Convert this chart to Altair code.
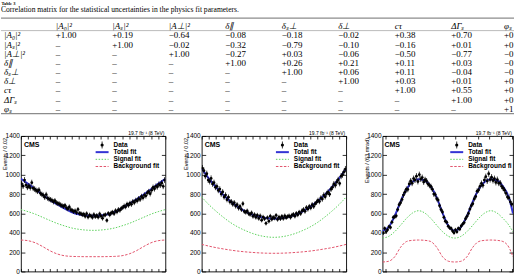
import altair as alt
import numpy as np
import pandas as pd

# ---------------- table content ----------------
TABLE_TITLE = "Table 3"
TABLE_CAPTION = "Correlation matrix for the statistical uncertainties in the physics fit parameters."
PARAMS = ["|A₀|²", "|Aₛ|²", "|A⊥|²", "δ∥", "δₛ⊥", "δ⊥", "cτ", "ΔΓₛ", "φₛ"]
ROW_A0 = ["+1.00", "+0.19", "−0.64", "−0.08", "−0.18", "−0.02", "+0.38", "+0.70", "+0.08"]
ROW_AS = ["–", "+1.00", "−0.02", "−0.32", "−0.79", "−0.10", "−0.16", "+0.01", "+0.03"]
ROW_APERP = ["–", "–", "+1.00", "−0.27", "+0.03", "−0.06", "−0.50", "−0.77", "−0.05"]
ROW_DPAR = ["–", "–", "–", "+1.00", "+0.26", "+0.21", "+0.11", "+0.03", "−0.02"]
ROW_DSPERP = ["–", "–", "–", "–", "+1.00", "+0.06", "+0.11", "−0.04", "−0.01"]
ROW_DPERP = ["–", "–", "–", "–", "–", "+1.00", "+0.03", "+0.01", "+0.04"]
ROW_CTAU = ["–", "–", "–", "–", "–", "–", "+1.00", "+0.55", "+0.02"]
ROW_DGAMMA = ["–", "–", "–", "–", "–", "–", "–", "+1.00", "+0.06"]
ROW_PHIS = ["–", "–", "–", "–", "–", "–", "–", "–", "+1.00"]
CORR = [ROW_A0, ROW_AS, ROW_APERP, ROW_DPAR, ROW_DSPERP, ROW_DPERP, ROW_CTAU, ROW_DGAMMA, ROW_PHIS]

# ---------------- plot content ----------------
LUMI = "19.7 fb⁻¹ (8 TeV)"
LEGEND_LABELS = ["Data", "Total fit", "Signal fit", "Background fit"]
YTICKS = [0, 200, 400, 600, 800, 1000, 1200, 1400]
YTITLE_COS = "Events / 0.02"
YTITLE_PHI = "Events / (63 mrad)"

P1_COUNTS = [905, 882, 945, 893, 870, 884, 866, 918, 860, 852,
             838, 829, 842, 808, 797, 788, 766, 795, 758, 748,
             742, 735, 720, 731, 710, 703, 698, 688, 680, 672,
             682, 658, 648, 667, 638, 630, 619, 626, 608, 641,
             600, 598, 586, 592, 571, 597, 562, 583, 574, 559,
             588, 566, 579, 561, 594, 572, 549, 581, 586, 528,
             600, 585, 605, 612, 598, 628, 616, 640, 632, 652,
             660, 676, 668, 695, 684, 705, 694, 722, 712, 735,
             730, 752, 745, 775, 762, 790, 782, 812, 825, 804,
             840, 868, 855, 880, 876, 900, 892, 915, 880, 945]
P1_TOT = [958, 905, 850, 793, 740, 695, 652, 615, 590, 579, 576, 579, 590, 615, 655, 700, 745, 795, 850, 905, 958]
P1_SIG = [640, 618, 592, 560, 528, 497, 472, 450, 436, 428, 425, 428, 436, 450, 472, 497, 528, 560, 592, 618, 640]
P1_BKG = [325, 318, 296, 258, 215, 182, 163, 156, 154, 153, 153, 153, 154, 156, 163, 182, 215, 258, 296, 318, 325]

P2_COUNTS = [1068, 1042, 985, 1010, 945, 930, 962, 905, 918, 870,
             880, 838, 852, 800, 822, 770, 790, 742, 768, 720,
             722, 695, 712, 676, 690, 655, 672, 640, 700, 620,
             612, 625, 598, 590, 605, 570, 588, 560, 582, 548,
             575, 530, 562, 545, 498, 556, 520, 572, 540, 560,
             552, 580, 538, 562, 545, 570, 548, 575, 556, 568,
             575, 560, 582, 590, 572, 600, 585, 612, 598, 628,
             640, 622, 660, 645, 672, 658, 690, 672, 700, 715,
             735, 722, 760, 748, 790, 772, 805, 820, 798, 850,
             870, 905, 890, 925, 948, 910, 985, 1000, 1030, 1058]
P2_TOT = [1065, 960, 870, 790, 722, 668, 622, 588, 564, 550, 546, 550, 564, 588, 622, 668, 722, 790, 870, 960, 1065]
P2_SIG = [770, 690, 622, 560, 505, 460, 424, 394, 372, 358, 353, 358, 372, 394, 424, 460, 505, 560, 622, 690, 770]
P2_BKG = [280, 262, 246, 233, 221, 211, 203, 197, 192, 189, 188, 189, 192, 197, 203, 211, 221, 233, 246, 262, 280]

P3_COUNTS = [398, 445, 412, 430, 462, 455, 510, 560, 565, 575,
             640, 690, 710, 745, 790, 820, 850, 848, 905, 935,
             912, 960, 945, 985, 930,
             1000, 955, 970, 925, 948, 935, 905, 890, 878, 850,
             800, 795, 752, 738, 680, 640, 615, 560, 520, 508,
             468, 450, 445, 418, 400,
             430, 410, 445, 438, 470, 490, 505, 545, 570, 600,
             645, 680, 700, 750, 775, 830, 842, 880, 910, 890,
             945, 980, 935, 1010, 950,
             975, 940, 960, 920, 950, 912, 915, 880, 860, 840,
             808, 770, 760, 720, 695, 645, 600, 575, 525, 495,
             480, 450, 432, 435, 410]
P3_TOT = [420, 458, 570, 722, 852, 928, 952, 940, 880, 765, 600, 465, 422,
          458, 570, 722, 852, 928, 952, 940, 880, 765, 600, 465, 422]
P3_SIG = [345, 362, 410, 478, 550, 605, 628, 605, 550, 478, 410, 362, 345,
          362, 410, 478, 550, 605, 628, 605, 550, 478, 410, 362, 345]
P3_BKG = [98, 105, 150, 250, 310, 322, 325, 322, 310, 250, 150, 105, 98,
          105, 150, 250, 310, 322, 325, 322, 310, 250, 150, 105, 98]

BIN_COS = np.linspace(-0.99, 0.99, 100)
FIT_COS = np.linspace(-1.0, 1.0, 21)
BIN_PHI = np.linspace(-np.pi + np.pi / 100, np.pi - np.pi / 100, 100)
FIT_PHI = np.linspace(-np.pi, np.pi, 25)
XTICK_COS = [round(v, 2) for v in np.arange(-1.0, 1.001, 0.1)]
XTICK_PHI = [-3, -2.5, -2, -1.5, -1, -0.5, 0, 0.5, 1, 1.5, 2, 2.5]

C_TOT = "#3434d4"
C_SIG = "#5ed25e"
C_BKG = "#e2546c"
SANS = "Liberation Sans"
SERIF = "Liberation Serif"
NO_ELLIPSIS = "\u200b"

PANEL_W = 145
PANEL_H = 136
P3_W = 131  # third panel runs off the page edge in the reference
P3_XMAX = -np.pi + 2 * np.pi * P3_W / PANEL_W

dummy = alt.Chart(pd.DataFrame({"a": [0]}))

# ---------------- table chart ----------------
cell_df = pd.DataFrame([{"row": r + 1, "col": c + 1, "txt": v}
                        for r, row in enumerate(CORR) for c, v in enumerate(row)])
head_df = pd.DataFrame({"row": [0] * 9, "col": list(range(1, 10)), "txt": PARAMS})
lab_df = pd.DataFrame({"row": list(range(1, 10)), "col": [0] * 9, "txt": PARAMS})

tx = alt.Scale(domain=[0.03, 9.113], nice=False, zero=False)
ty = alt.Scale(domain=[-2.696, 10.13], nice=False, zero=False, reverse=True)


def tcol(df, style, dx=0, limit=None):
    kw = dict(align="left", baseline="middle", font=SERIF, fontSize=9, fontStyle=style,
              dx=dx, clip=True, color="black")
    if limit:
        kw["limit"] = limit
        kw["ellipsis"] = NO_ELLIPSIS
    return alt.Chart(df).mark_text(**kw).encode(
        x=alt.X("col:Q", scale=tx, axis=None),
        y=alt.Y("row:Q", scale=ty, axis=None),
        text="txt:N",
    )


last_cells = cell_df[cell_df["col"] == 9]
inner_cells = cell_df[cell_df["col"] < 9]
table_layers = [
    tcol(inner_cells, "normal"),
    tcol(last_cells, "normal", dx=-3.6, limit=10),
    tcol(head_df[head_df["col"] < 9], "italic"),
    tcol(head_df[head_df["col"] == 9], "italic", dx=-3.6, limit=10),
    tcol(lab_df, "italic", dx=4.7),
    dummy.mark_text(text=TABLE_TITLE, align="left", baseline="alphabetic", font=SERIF,
                    fontSize=4.5, fontWeight="bold", color="black")
    .encode(x=alt.value(0.5), y=alt.value(3.6)),
    dummy.mark_text(text=TABLE_CAPTION, align="left", baseline="middle", font=SERIF,
                    fontSize=7.6, clip=True, color="black")
    .encode(x=alt.value(0), y=alt.value(8.6)),
]
for yy, w, col in [(16.7, 1.3, "#8c8c8c"), (29.2, 0.8, "#a8a8a8"), (112.6, 1.3, "#8c8c8c")]:
    table_layers.append(
        dummy.mark_rule(color=col, strokeWidth=w)
        .encode(x=alt.value(0), x2=alt.value(515), y=alt.value(yy))
    )
table = alt.layer(*table_layers).properties(
    width=515, height=118, view=alt.ViewBackground(strokeOpacity=0))


# ---------------- panels ----------------
def legend_layers(leg_x, width):
    lx0, lx1 = leg_x - 18, leg_x - 5
    mid = (lx0 + lx1) / 2
    ys_ = [9, 16.2, 23.4, 30.6]
    L = [
        dummy.mark_rule(color="black", strokeWidth=0.8)
        .encode(x=alt.value(mid), y=alt.value(ys_[0] - 3.5), y2=alt.value(ys_[0] + 3.5)),
        dummy.mark_circle(size=10, color="black", opacity=1)
        .encode(x=alt.value(mid), y=alt.value(ys_[0])),
        dummy.mark_rule(color=C_TOT, strokeWidth=2)
        .encode(x=alt.value(lx0), x2=alt.value(lx1), y=alt.value(ys_[1])),
        dummy.mark_rule(color=C_SIG, strokeWidth=1, strokeDash=[1.5, 1.5])
        .encode(x=alt.value(lx0), x2=alt.value(lx1), y=alt.value(ys_[2])),
        dummy.mark_rule(color=C_BKG, strokeWidth=1, strokeDash=[2.5, 1.5])
        .encode(x=alt.value(lx0), x2=alt.value(lx1), y=alt.value(ys_[3])),
    ]
    for lab, yy in zip(LEGEND_LABELS, ys_):
        L.append(dummy.mark_text(text=lab, align="left", baseline="middle", font=SANS,
                                 fontSize=6.5, fontWeight="bold", color="black", clip=True,
                                 limit=width - leg_x, ellipsis=NO_ELLIPSIS)
                 .encode(x=alt.value(leg_x), y=alt.value(yy)))
    return L


def make_panel(bin_x, counts, fit_x, tot, sig, bkg, xdom, xticks, ytitle, leg_x, cms_x,
               width=PANEL_W, fit_step=0.1):
    pts = pd.DataFrame({"x": bin_x, "n": counts})
    pts["lo"] = pts["n"] - np.sqrt(pts["n"])
    pts["hi"] = pts["n"] + np.sqrt(pts["n"])
    fits = pd.DataFrame({"x": fit_x, "tot": tot, "sig": sig, "bkg": bkg})
    xmax = xdom[1]
    xs = alt.Scale(domain=xdom, nice=False, zero=False, clamp=True)
    ys = alt.Scale(domain=[0, 1400], nice=False)
    Xn = alt.X("x:Q", scale=xs, axis=None)
    in_range = alt.datum.x <= xmax + 1e-9
    fit_range = alt.datum.x < xmax + fit_step

    def fit_line(col, color, w, dash=None):
        kw = dict(color=color, strokeWidth=w, interpolate="monotone", clip=True)
        if dash:
            kw["strokeDash"] = dash
        return alt.Chart(fits).transform_filter(fit_range).mark_line(**kw).encode(
            x=Xn, y=alt.Y(f"{col}:Q", scale=ys, axis=None))

    err = alt.Chart(pts).transform_filter(in_range).mark_rule(
        color="black", strokeWidth=0.75, clip=True).encode(
        x=Xn, y=alt.Y("lo:Q", scale=ys, axis=None), y2="hi:Q")
    main = alt.Chart(pts).transform_filter(in_range).mark_circle(
        size=8, color="black", opacity=1, clip=True).encode(
        x=alt.X("x:Q", scale=xs, axis=alt.Axis(
            orient="bottom", values=xticks, labels=False, tickSize=3, offset=-3,
            domain=False, grid=False, title=None, tickColor="black", tickWidth=0.8)),
        y=alt.Y("n:Q", scale=ys, axis=alt.Axis(
            orient="left", values=YTICKS, format="d", tickSize=4, offset=-4, domain=False,
            grid=False, title=None, labelFont=SANS, labelFontSize=6.5, labelPadding=1.5,
            labelColor="black", tickColor="black", tickWidth=0.8)),
    )
    frame = alt.Chart(pts).transform_filter(in_range).mark_circle(opacity=0, size=1).encode(
        x=alt.X("x:Q", scale=xs, axis=alt.Axis(
            orient="top", values=xticks, labels=False, tickSize=3, offset=-3,
            domain=False, grid=False, title=None, tickColor="black", tickWidth=0.8)),
        y=alt.Y("n:Q", scale=ys, axis=alt.Axis(
            orient="right", values=YTICKS, labels=False, tickSize=4, offset=-4,
            domain=False, grid=False, title=None, tickColor="black", tickWidth=0.8)),
    )
    decor = [
        dummy.mark_text(text="CMS", align="left", baseline="middle", font=SANS, fontSize=7,
                        fontWeight="bold", color="black")
        .encode(x=alt.value(cms_x), y=alt.value(9)),
        dummy.mark_text(text=LUMI, align="right", baseline="alphabetic", font=SANS,
                        fontSize=5, color="black")
        .encode(x=alt.value(width - 1), y=alt.value(-1.5)),
        dummy.mark_text(text=ytitle, angle=270, align="right", baseline="alphabetic",
                        font=SANS, fontSize=5.5, color="black")
        .encode(x=alt.value(-13.5), y=alt.value(2)),
    ]
    layers = [fit_line("bkg", C_BKG, 1, [2.5, 1.5]),
              fit_line("sig", C_SIG, 1, [1.5, 1.5]),
              fit_line("tot", C_TOT, 2),
              err, main, frame] + decor + legend_layers(leg_x, width)
    return alt.layer(*layers).resolve_axis(x="independent", y="independent").properties(
        width=width, height=PANEL_H)


p1 = make_panel(BIN_COS, P1_COUNTS, FIT_COS, P1_TOT, P1_SIG, P1_BKG, [-1, 1], XTICK_COS,
                YTITLE_COS, 93, 3)
p2 = make_panel(BIN_COS, P2_COUNTS, FIT_COS, P2_TOT, P2_SIG, P2_BKG, [-1, 1], XTICK_COS,
                YTITLE_COS, 92.5, 3)
p3 = make_panel(BIN_PHI, P3_COUNTS, FIT_PHI, P3_TOT, P3_SIG, P3_BKG, [-np.pi, P3_XMAX],
                XTICK_PHI, YTITLE_PHI, 86, 2, width=P3_W, fit_step=np.pi / 12)

spacer = dummy.mark_point(opacity=0, size=0).encode(
    x=alt.value(0.5), y=alt.value(0.5)).properties(
    width=1, height=1, view=alt.ViewBackground(strokeOpacity=0))

row = alt.hconcat(spacer, alt.hconcat(p1, p2, p3, spacing=36.5, bounds="flush"),
                  spacing=19, bounds="flush")
chart = alt.vconcat(table, row, spacing=17, bounds="flush", padding=0,
                    background="white").configure_view(stroke="black", strokeWidth=0.9)

chart.save("out.html", embed_options={"renderer": "svg", "actions": False})
